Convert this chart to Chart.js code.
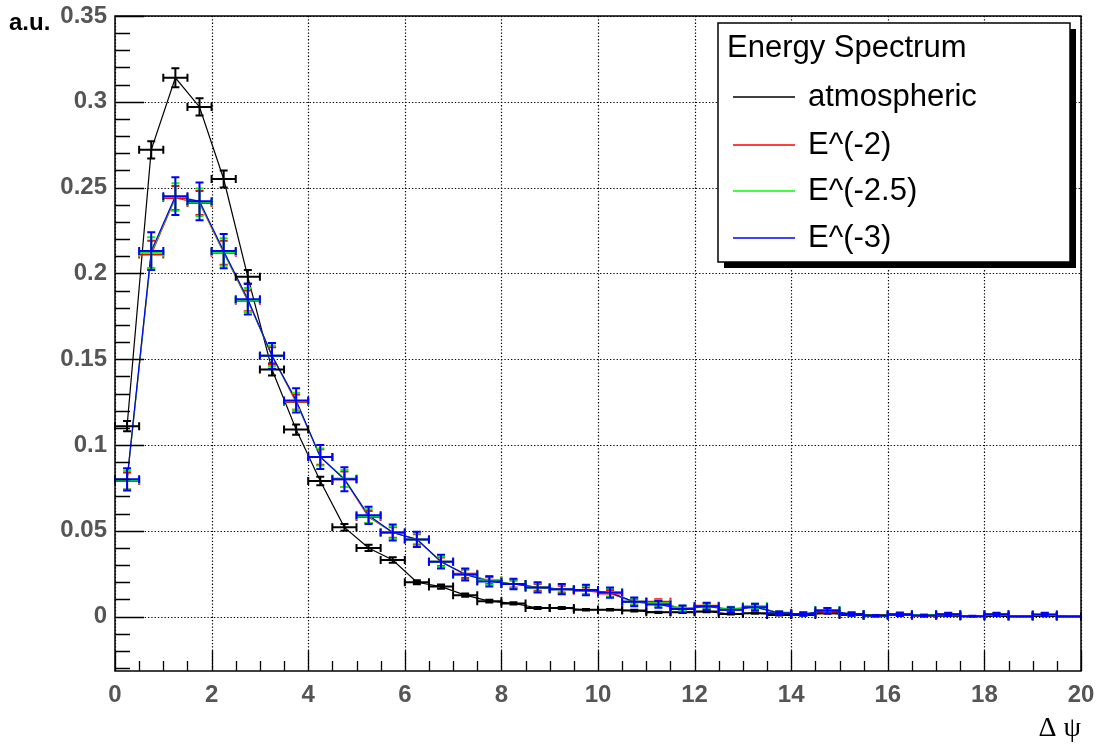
<!DOCTYPE html>
<html>
<head>
<meta charset="utf-8">
<script src="https://cdn.jsdelivr.net/npm/chart.js@4.4.1/dist/chart.umd.min.js"></script>
<style>html,body{margin:0;padding:0;background:#fff}</style>
</head>
<body>
<canvas id="chart" width="1098" height="748"></canvas>
<script>
// bin centres in delta psi, bins are 0.5 wide
const binCenters = [0.25, 0.75, 1.25, 1.75, 2.25, 2.75, 3.25, 3.75, 4.25, 4.75,
  5.25, 5.75, 6.25, 6.75, 7.25, 7.75, 8.25, 8.75, 9.25, 9.75,
  10.25, 10.75, 11.25, 11.75, 12.25, 12.75, 13.25, 13.75, 14.25, 14.75,
  15.25, 15.75, 16.25, 16.75, 17.25, 17.75, 18.25, 18.75, 19.25, 19.75];
const binHalfWidth = 0.25;

const atmospheric = [0.111, 0.272, 0.314, 0.297, 0.255, 0.198, 0.144, 0.109, 0.079, 0.052,
  0.040, 0.033, 0.020, 0.0175, 0.0125, 0.009, 0.0077, 0.005, 0.005, 0.004,
  0.004, 0.0035, 0.0025, 0.0025, 0.003, 0.0015, 0.002, 0.001, 0.001, 0.002,
  0.001, 0.0008, 0.001, 0.0006, 0.0005, 0.0004, 0.0004, 0.0003, 0.0003, 0.0002];
const atmErr = [0.003, 0.005, 0.0055, 0.005, 0.005, 0.004, 0.0035, 0.003, 0.0025, 0.002,
  0.0018, 0.0016, 0.0012, 0.0012, 0.001, 0.0008, 0.0007, 0.0006, 0.0006, 0.0005,
  0.0005, 0.0005, 0.0004, 0.0004, 0.0004, 0.0003, 0.0004, 0.0003, 0.0003, 0.0004,
  0.0003, 0.0002, 0.0003, 0.0002, 0.0002, 0.0002, 0.0002, 0.0001, 0.0002, 0.0001];

const spec2 = [0.079, 0.211, 0.244, 0.241, 0.212, 0.184, 0.152, 0.125, 0.093, 0.080,
  0.058, 0.049, 0.045, 0.032, 0.025, 0.021, 0.019, 0.017, 0.016, 0.015,
  0.0135, 0.0086, 0.0086, 0.0045, 0.0063, 0.004, 0.0058, 0.0022, 0.0015, 0.003,
  0.0014, 0.0005, 0.0014, 0.0005, 0.0012, 0.0002, 0.0012, 0, 0.0011, 0];
const spec2Err = [0.005, 0.008, 0.007, 0.007, 0.007, 0.006, 0.005, 0.0045, 0.0045, 0.0045,
  0.0035, 0.003, 0.003, 0.0025, 0.0025, 0.002, 0.002, 0.002, 0.002, 0.002,
  0.002, 0.0015, 0.0015, 0.0013, 0.0013, 0.001, 0.0013, 0.0008, 0.0007, 0.001,
  0.0007, 0.0004, 0.0007, 0.0004, 0.0007, 0.0002, 0.0007, 0.0001, 0.0007, 0.0001];

const spec25 = [0.0795, 0.212, 0.2445, 0.2415, 0.2125, 0.1845, 0.152, 0.1255, 0.093, 0.0805,
  0.0585, 0.049, 0.045, 0.032, 0.0245, 0.021, 0.019, 0.017, 0.016, 0.0155,
  0.014, 0.0086, 0.0078, 0.0048, 0.006, 0.0045, 0.006, 0.0021, 0.0015, 0.0038,
  0.0015, 0.0005, 0.0013, 0.0008, 0.0013, 0.0002, 0.0012, 0, 0.0011, 0];
const spec25Err = [0.0055, 0.009, 0.008, 0.008, 0.008, 0.007, 0.006, 0.005, 0.005, 0.005,
  0.004, 0.0035, 0.0035, 0.003, 0.003, 0.0025, 0.0025, 0.0025, 0.0025, 0.0025,
  0.0025, 0.002, 0.0018, 0.0015, 0.0015, 0.0012, 0.0015, 0.0009, 0.0008, 0.0012,
  0.0008, 0.0004, 0.0008, 0.0004, 0.0008, 0.0002, 0.0008, 0.0001, 0.0008, 0.0001];

const spec3 = [0.080, 0.213, 0.245, 0.242, 0.213, 0.185, 0.152, 0.126, 0.093, 0.080,
  0.059, 0.049, 0.045, 0.032, 0.0245, 0.0205, 0.019, 0.017, 0.016, 0.0155,
  0.014, 0.0086, 0.0071, 0.0044, 0.006, 0.004, 0.0055, 0.002, 0.0015, 0.0035,
  0.0015, 0.0005, 0.0014, 0.0006, 0.0013, 0.0002, 0.0013, 0, 0.0012, 0];
const spec3Err = [0.0065, 0.011, 0.011, 0.011, 0.010, 0.009, 0.0075, 0.007, 0.007, 0.007,
  0.005, 0.0047, 0.0045, 0.004, 0.0035, 0.003, 0.003, 0.003, 0.003, 0.003,
  0.003, 0.0025, 0.002, 0.002, 0.002, 0.0015, 0.002, 0.001, 0.001, 0.0015,
  0.001, 0.0005, 0.001, 0.0005, 0.001, 0.0003, 0.001, 0.0002, 0.001, 0.0002];

const seriesNames = ['atmospheric', 'E^(-2)', 'E^(-2.5)', 'E^(-3)'];
const seriesColors = ['#000000', '#ff0000', '#00ff00', '#0000ff'];
const seriesValues = [atmospheric, spec2, spec25, spec3];
const seriesErrors = [atmErr, spec2Err, spec25Err, spec3Err];

const xTicks = [0, 2, 4, 6, 8, 10, 12, 14, 16, 18, 20];
const yTicks = [0, 0.05, 0.1, 0.15, 0.2, 0.25, 0.3, 0.35];
const xMinorStep = 0.5;
const yMinorStep = 0.01;
const yMin = -0.0317, yMax = 0.35;

const datasets = seriesValues.map((vals, k) => ({
  label: seriesNames[k],
  data: vals.map((v, i) => ({x: binCenters[i], y: v})),
  errors: seriesErrors[k],
  borderColor: seriesColors[k],
  backgroundColor: seriesColors[k],
  borderWidth: 1.2,
  pointRadius: 0,
  showLine: true,
  tension: 0,
  order: seriesValues.length - k   // later series drawn on top, as in ROOT
}));

// error bars like ROOT's E1 option
const errorBars = {
  id: 'errorBars',
  afterDatasetsDraw(chart) {
    const ctx = chart.ctx, x = chart.scales.x, y = chart.scales.y;
    const cap = 4;
    ctx.save();
    ctx.lineWidth = 2;
    chart.data.datasets.forEach(ds => {
      ctx.strokeStyle = ds.borderColor;
      ds.data.forEach((p, i) => {
        const px = x.getPixelForValue(p.x), py = y.getPixelForValue(p.y);
        const xl = x.getPixelForValue(p.x - binHalfWidth), xr = x.getPixelForValue(p.x + binHalfWidth);
        const yt = y.getPixelForValue(p.y + ds.errors[i]), yb = y.getPixelForValue(p.y - ds.errors[i]);
        ctx.beginPath();
        ctx.moveTo(xl, py); ctx.lineTo(xr, py);
        ctx.moveTo(xl, py - cap); ctx.lineTo(xl, py + cap);
        ctx.moveTo(xr, py - cap); ctx.lineTo(xr, py + cap);
        if (yb - yt > 1) {
          ctx.moveTo(px, yt); ctx.lineTo(px, yb);
          ctx.moveTo(px - cap, yt); ctx.lineTo(px + cap, yt);
          ctx.moveTo(px - cap, yb); ctx.lineTo(px + cap, yb);
        }
        ctx.stroke();
      });
    });
    ctx.restore();
  }
};

// dotted grid, frame, inward ticks, titles and legend box
const rootFrame = {
  id: 'rootFrame',
  beforeDatasetsDraw(chart) {
    const ctx = chart.ctx, a = chart.chartArea, x = chart.scales.x, y = chart.scales.y;
    ctx.save();
    ctx.strokeStyle = '#000';
    ctx.lineWidth = 1.2;
    ctx.setLineDash([1.3, 2]);
    ctx.beginPath();
    xTicks.forEach(v => {
      const px = Math.round(x.getPixelForValue(v)) + 0.5;
      ctx.moveTo(px, a.top); ctx.lineTo(px, a.bottom);
    });
    yTicks.forEach(v => {
      const py = Math.round(y.getPixelForValue(v)) + 0.5;
      ctx.moveTo(a.left, py); ctx.lineTo(a.right, py);
    });
    ctx.stroke();
    ctx.restore();
  },
  afterDraw(chart) {
    const ctx = chart.ctx, a = chart.chartArea, x = chart.scales.x, y = chart.scales.y;
    ctx.save();
    ctx.strokeStyle = '#000';
    ctx.lineWidth = 1.5;
    ctx.strokeRect(a.left, a.top, a.right - a.left, a.bottom - a.top);

    ctx.lineWidth = 1.3;
    ctx.beginPath();
    for (let v = -0.03; v <= yMax + 1e-9; v += yMinorStep) {
      const vv = Math.round(v * 100) / 100;
      const major = Math.abs(vv / 0.05 - Math.round(vv / 0.05)) < 1e-6;
      const py = Math.round(y.getPixelForValue(vv)) + 0.5;
      ctx.moveTo(a.left, py); ctx.lineTo(a.left + (major ? 29 : 15), py);
    }
    for (let v = 0; v <= 20 + 1e-9; v += xMinorStep) {
      const major = Math.abs(v % 2) < 1e-6;
      const px = Math.round(x.getPixelForValue(v)) + 0.5;
      ctx.moveTo(px, a.bottom); ctx.lineTo(px, a.bottom - (major ? 20 : 10));
    }
    ctx.stroke();

    // axis titles
    ctx.fillStyle = '#000';
    ctx.font = 'bold 24px "Liberation Sans", Arial, sans-serif';
    ctx.textAlign = 'left';
    ctx.textBaseline = 'middle';
    ctx.fillText('a.u.', 9, 23);
    ctx.font = '28px "Liberation Serif", "DejaVu Serif", serif';
    ctx.textAlign = 'right';
    ctx.fillText('\u0394 \u03c8', a.right, 729);

    // legend
    const L = {left: 718, top: 23, right: 1070, bottom: 262};
    ctx.fillStyle = '#000';
    ctx.fillRect(L.left + 6, L.top + 6, L.right - L.left, L.bottom - L.top);
    ctx.fillStyle = '#fff';
    ctx.fillRect(L.left, L.top, L.right - L.left, L.bottom - L.top);
    ctx.lineWidth = 1.5;
    ctx.strokeRect(L.left, L.top, L.right - L.left, L.bottom - L.top);
    ctx.fillStyle = '#000';
    ctx.textAlign = 'left';
    ctx.font = '31px "Liberation Sans", Arial, sans-serif';
    ctx.fillText('Energy Spectrum', 727, 48);
    const rows = [97, 145, 191, 238];
    seriesNames.forEach((n, k) => {
      ctx.strokeStyle = seriesColors[k];
      ctx.lineWidth = 1.3;
      ctx.beginPath();
      ctx.moveTo(733, rows[k]); ctx.lineTo(795, rows[k]);
      ctx.stroke();
      ctx.fillStyle = '#000';
      ctx.fillText(n, 808, rows[k]);
    });
    ctx.restore();
  }
};

const tickFont = {family: '"Liberation Sans", Arial, sans-serif', weight: 'bold', size: 24};

new Chart(document.getElementById('chart'), {
  type: 'scatter',
  data: {datasets: datasets},
  options: {
    responsive: false,
    animation: false,
    devicePixelRatio: 1,
    layout: {padding: {top: 16, right: 17, left: 0, bottom: 0}},
    plugins: {legend: {display: false}, tooltip: {enabled: false}},
    scales: {
      x: {
        type: 'linear', min: 0, max: 20,
        grid: {display: false, drawTicks: false},
        border: {display: false},
        afterBuildTicks: s => { s.ticks = xTicks.map(v => ({value: v})); },
        afterFit: s => { s.height = 77; s.paddingLeft = 0; s.paddingRight = 0; },
        ticks: {color: '#555', font: tickFont, padding: 10, maxRotation: 0,
          callback: v => String(v)}
      },
      y: {
        type: 'linear', min: yMin, max: yMax,
        grid: {display: false, drawTicks: false},
        border: {display: false},
        afterBuildTicks: s => { s.ticks = yTicks.map(v => ({value: v})); },
        afterFit: s => { s.width = 115; s.paddingTop = 0; s.paddingBottom = 0; },
        ticks: {color: '#555', font: tickFont, padding: 8,
          callback: v => String(+v.toFixed(2))}
      }
    }
  },
  plugins: [errorBars, rootFrame]
});
</script>
</body>
</html>
